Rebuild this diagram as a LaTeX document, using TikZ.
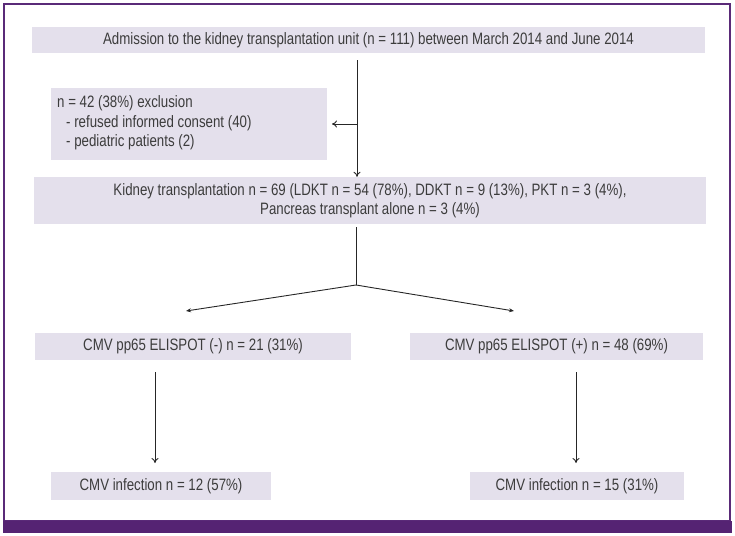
\documentclass[tikz,border=0pt]{standalone}
\usepackage{fontspec}
\setmainfont[FakeStretch=0.805]{Liberation Sans}
\usetikzlibrary{arrows.meta}
\definecolor{framepurple}{HTML}{5A2A78}
\definecolor{bandpurple}{HTML}{552373}
\definecolor{boxfill}{HTML}{E4E0EC}
\definecolor{txt}{HTML}{3C3C3C}
\tikzset{
  box/.style={rectangle, fill=boxfill, inner sep=0pt, font=\fontsize{16.5}{19}\selectfont, text=txt},
  conn/.style={draw=black!85, line width=0.9pt},
  arr/.style={conn, -{To[length=5pt,width=7pt]}},
  sarr/.style={conn, -{Stealth[length=5pt,width=4pt]}},
}
\begin{document}
\begin{tikzpicture}[x=1pt,y=-1pt]
\useasboundingbox (0,0) rectangle (735,535);
% frame
\draw[framepurple, line width=2pt] (4,4) rectangle (730,521);
\fill[bandpurple] (3,521) rectangle (732,533);
% boxes
\node[box, minimum width=673pt, minimum height=26pt] (top) at (368.5,40) {Admission to the kidney transplantation unit (n = 111) between March 2014 and June 2014};
\node[box, minimum width=276pt, minimum height=72pt] (excl) at (189,124) {};
\node[box, fill=none, anchor=west, align=left, font=\fontsize{16.5}{19.5}\selectfont] (excltext) at (57,123) {n = 42 (38\%) exclusion\\\hspace*{9pt}- refused informed consent (40)\\\hspace*{9pt}- pediatric patients (2)};
\node[box, minimum width=672pt, minimum height=47pt, align=center, font=\fontsize{16.5}{18.5}\selectfont] (kidney) at (370,200.5) {Kidney transplantation n = 69 (LDKT n = 54 (78\%), DDKT n = 9 (13\%), PKT n = 3 (4\%),\\Pancreas transplant alone n = 3 (4\%)};
\node[box, minimum width=316pt, minimum height=27pt] (neg) at (193,346.5) {CMV pp65 ELISPOT (-) n = 21 (31\%)};
\node[box, minimum width=293pt, minimum height=27pt] (pos) at (556.5,346.5) {CMV pp65 ELISPOT (+) n = 48 (69\%)};
\node[box, minimum width=220pt, minimum height=28pt] (infL) at (161,486) {CMV infection n = 12 (57\%)};
\node[box, minimum width=214pt, minimum height=28pt] (infR) at (577,486) {CMV infection n = 15 (31\%)};
% connector points
\coordinate (s1) at (357,60);
\coordinate (j1) at (357,124);
\coordinate (e1) at (332,124);
\coordinate (s2) at (356,227);
\coordinate (v) at (356,285);
\coordinate (tl) at (186,311);
\coordinate (tr) at (514,311);
\coordinate (s3) at (155,372);
\coordinate (t3) at (155,463);
\coordinate (s4) at (576,372);
\coordinate (t4) at (576,463);
% connectors
\draw[arr] (s1) -- (s1 |- kidney.north);
\draw[arr] (j1) -- (e1);
\draw[conn] (s2) -- (v);
\draw[sarr] (v) -- (tl);
\draw[sarr] (v) -- (tr);
\draw[arr] (s3) -- (t3);
\draw[arr] (s4) -- (t4);
\end{tikzpicture}
\end{document}
